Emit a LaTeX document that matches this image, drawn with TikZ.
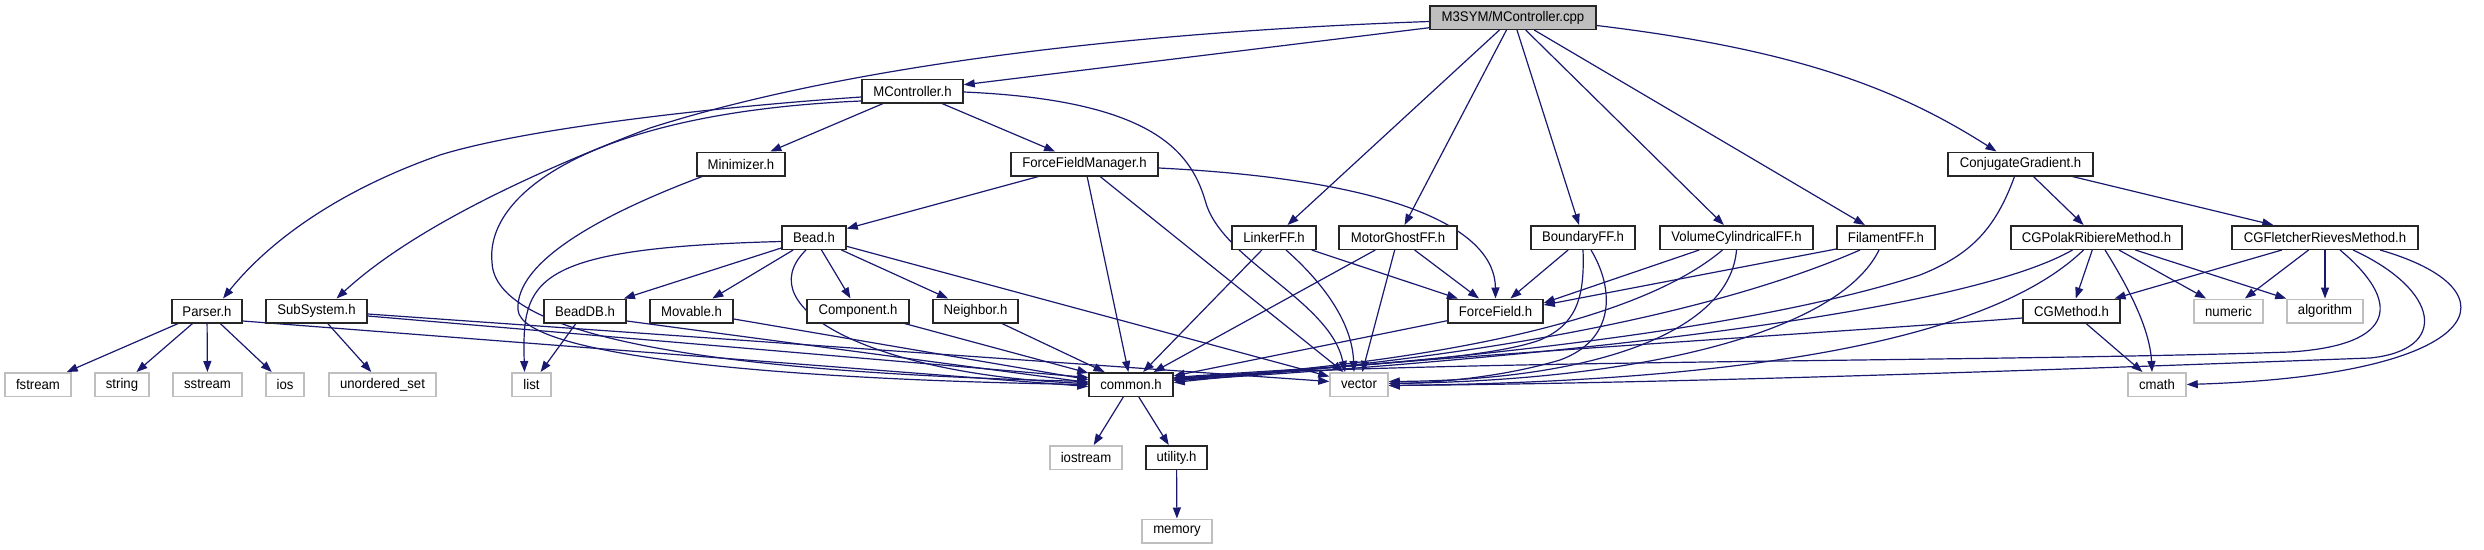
\documentclass[tikz,border=0pt]{standalone}
\usepackage{fontspec}
\setmainfont{Liberation Sans}[FakeStretch=0.94]
\usetikzlibrary{arrows.meta,calc,backgrounds}
\definecolor{edgec}{HTML}{191970}
\definecolor{grayb}{HTML}{BFBFBF}
\begin{document}
\begin{tikzpicture}[x=1pt,y=-1pt,
  hb/.style={draw=black!85, line width=1.5pt, fill=white, minimum height=23.5pt, inner sep=0pt, font=\fontsize{14}{16}\selectfont},
  gb/.style={hb, draw=grayb},
  rb/.style={hb, fill=grayb},
  ed/.style={draw=edgec, line width=1.2pt, -{Triangle[length=11pt,width=8pt]}},
]
\useasboundingbox (0,0) rectangle (2484,549);
% row 1
\node[rb, minimum width=166pt] (cpp) at (1513,17.5) {M3SYM/MController.cpp};
% row 2
\node[hb, minimum width=101pt] (mc) at (912.5,91) {MController.h};
% row 3
\node[hb, minimum width=88pt] (mini) at (741,164) {Minimizer.h};
\node[hb, minimum width=147pt] (ffm) at (1084.5,164) {ForceFieldManager.h};
\node[hb, minimum width=145pt] (cg) at (2020.5,164) {ConjugateGradient.h};
% row 4
\node[hb, minimum width=64pt] (bead) at (814,237.5) {Bead.h};
\node[hb, minimum width=84pt] (linker) at (1274,237.5) {LinkerFF.h};
\node[hb, minimum width=118pt] (motor) at (1398,237.5) {MotorGhostFF.h};
\node[hb, minimum width=104pt] (bound) at (1583,237.5) {BoundaryFF.h};
\node[hb, minimum width=153pt] (vcyl) at (1736.5,237.5) {VolumeCylindricalFF.h};
\node[hb, minimum width=98pt] (fil) at (1886,237.5) {FilamentFF.h};
\node[hb, minimum width=171pt] (polak) at (2096.5,237.5) {CGPolakRibiereMethod.h};
\node[hb, minimum width=186pt] (fletch) at (2325,237.5) {CGFletcherRievesMethod.h};
% row 5
\node[hb, minimum width=70pt] (parser) at (207,311) {Parser.h};
\node[hb, minimum width=101pt] (subsys) at (316.5,311) {SubSystem.h};
\node[hb, minimum width=82pt] (beaddb) at (585,311) {BeadDB.h};
\node[hb, minimum width=83pt] (movable) at (691.5,311) {Movable.h};
\node[hb, minimum width=102pt] (comp) at (858,311) {Component.h};
\node[hb, minimum width=85pt] (neigh) at (975.5,311) {Neighbor.h};
\node[hb, minimum width=95pt] (ffield) at (1495.5,311) {ForceField.h};
\node[hb, minimum width=97pt] (cgm) at (2071.5,311) {CGMethod.h};
\node[gb, minimum width=69pt] (numeric) at (2228.5,311) {numeric};
\node[gb, minimum width=76pt] (algo) at (2325,311) {algorithm};
% row 6
\node[gb, minimum width=66pt] (fstream) at (38,384.5) {fstream};
\node[gb, minimum width=54pt] (string) at (122,384.5) {string};
\node[gb, minimum width=69pt] (sstream) at (207.5,384.5) {sstream};
\node[gb, minimum width=38pt] (ios) at (285,384.5) {ios};
\node[gb, minimum width=107pt] (uset) at (382.5,384.5) {unordered\_set};
\node[gb, minimum width=39pt] (list) at (531.5,384.5) {list};
\node[hb, minimum width=84pt] (common) at (1131,384.5) {common.h};
\node[gb, minimum width=58pt] (vector) at (1359,384.5) {vector};
\node[gb, minimum width=58pt] (cmath) at (2157,384.5) {cmath};
% row 7
\node[gb, minimum width=72pt] (iostream) at (1086,457.5) {iostream};
\node[hb, minimum width=61pt] (utility) at (1176.5,457.5) {utility.h};
% row 8
\node[gb, minimum width=70pt] (memory) at (1177,531) {memory};

\begin{pgfonlayer}{background}
\fill[white] (0,0) rectangle (2484,549);
% cpp
\draw[ed] (cpp) -- (mc);
\draw[ed] ($(cpp.west)+(0,4)$) .. controls (1050,35) and (800,80) .. (650,128) .. controls (500,185) and (400,240) .. ($(subsys.north)+(20,0)$);
\draw[ed] (cpp) -- (linker);
\draw[ed] (cpp) -- (motor);
\draw[ed] (cpp) -- (bound);
\draw[ed] (cpp) -- (vcyl);
\draw[ed] (cpp) -- (fil);
\draw[ed] ($(cpp.east)+(0,8)$) .. controls (1800,50) and (1900,90) .. ($(cg.north)+(-24,0)$);
% MController
\draw[ed] ($(mc.west)+(0,6)$) .. controls (700,108) and (520,130) .. (440,155) .. controls (340,190) and (270,240) .. ($(parser.north)+(16,0)$);
\draw[ed] (mc) -- (mini);
\draw[ed] (mc) -- (ffm);
\draw[ed] ($(mc.west)+(0,10)$) .. controls (600,112) and (485,190) .. (492,262) .. controls (494,335) and (700,372) .. ($(common.west)+(0,-3)$);
\draw[ed] ($(mc.east)+(0,1)$) .. controls (1150,100) and (1190,150) .. (1205,200) .. controls (1220,260) and (1330,300) .. ($(vector.north)+(-14,0)$);
% Minimizer
\draw[ed] ($(mini.south west)+(6,0)$) .. controls (600,215) and (515,262) .. (518,310) .. controls (522,358) and (800,380) .. (common.west);
% ForceFieldManager
\draw[ed] (ffm) -- (bead);
\draw[ed] (ffm) -- (common);
\draw[ed] (ffm) -- (vector);
\draw[ed] ($(ffm.east)+(0,4)$) .. controls (1400,180) and (1495,230) .. (ffield.north);
% Bead
\draw[ed] ($(bead.west)+(0,4)$) .. controls (530,248) and (522,280) .. ($(list.north)+(-7,0)$);
\draw[ed] (bead) -- (beaddb);
\draw[ed] (bead) -- (movable);
\draw[ed] (bead) -- (comp);
\draw[ed] (bead) -- (neigh);
\draw[ed] ($(bead.south)+(-8,0)$) .. controls (745,310) and (880,375) .. ($(common.west)+(0,-1)$);
\draw[ed] (bead) -- (vector);
% Parser
\draw[ed] (parser) -- (fstream);
\draw[ed] (parser) -- (string);
\draw[ed] (parser) -- (sstream);
\draw[ed] (parser) -- (ios);
\draw[ed] ($(parser.east)+(0,10)$) -- ($(common.west)+(0,2)$);
% SubSystem
\draw[ed] (subsys) -- (uset);
\draw[ed] ($(subsys.east)+(0,5)$) -- ($(common.west)+(0,-7)$);
\draw[ed] ($(subsys.east)+(0,3)$) -- ($(vector.west)+(0,-3)$);
% BeadDB, Movable, Component, Neighbor
\draw[ed] (beaddb) -- (list);
\draw[ed] ($(beaddb.east)+(0,10)$) -- ($(common.west)+(0,-2)$);
\draw[ed] ($(movable.east)+(0,8)$) -- ($(common.west)+(0,-5)$);
\draw[ed] (comp) -- (common);
\draw[ed] (neigh) -- (common);
% LinkerFF
\draw[ed] (linker) -- (common);
\draw[ed] ($(linker.south)+(12,0)$) .. controls (1320,280) and (1352,320) .. ($(vector.north)+(-5,0)$);
\draw[ed] (linker) -- (ffield);
% MotorGhostFF
\draw[ed] (motor) -- (common);
\draw[ed] (motor) -- (vector);
\draw[ed] (motor) -- (ffield);
% BoundaryFF
\draw[ed] (bound) -- (ffield);
\draw[ed] (bound.south) .. controls (1585,300) and (1575,325) .. (1540,340) .. controls (1480,362) and (1300,368) .. ($(common.east)+(0,-7)$);
\draw[ed] ($(bound.south)+(8,0)$) .. controls (1615,290) and (1615,340) .. (1560,360) .. controls (1500,378) and (1430,383) .. ($(vector.east)+(0,-1)$);
% VolumeCylindricalFF
\draw[ed] ($(vcyl.south west)+(40,0)$) -- ($(ffield.east)+(0,-8)$);
\draw[ed] ($(vcyl.south)+(-14,0)$) .. controls (1640,320) and (1440,362) .. ($(common.east)+(0,-5)$);
\draw[ed] (vcyl.south) .. controls (1730,330) and (1600,380) .. ($(vector.east)+(0,-3)$);
% FilamentFF
\draw[ed] ($(fil.south west)+(0,-1)$) -- ($(ffield.east)+(0,-6)$);
\draw[ed] ($(fil.south)+(-26,0)$) .. controls (1700,320) and (1440,363) .. ($(common.east)+(0,-4)$);
\draw[ed] ($(fil.south)+(-7,0)$) .. controls (1840,330) and (1650,380) .. ($(vector.east)+(0,-1)$);
% ConjugateGradient
\draw[ed] ($(cg.south)+(-6,0)$) .. controls (1995,230) and (1970,255) .. (1920,275) .. controls (1750,330) and (1450,362) .. ($(common.east)+(0,-6)$);
\draw[ed] (cg) -- (polak);
\draw[ed] (cg) -- (fletch);
% CGPolakRibiere
\draw[ed] (polak) -- (cgm);
\draw[ed] ($(polak.south)+(8.5,0)$) .. controls (2130,290) and (2150,330) .. ($(cmath.north)+(-5,0)$);
\draw[ed] (polak) -- (numeric);
\draw[ed] (polak) -- (algo);
\draw[ed] ($(polak.south)+(-24,0)$) .. controls (1950,320) and (1480,362) .. ($(common.east)+(0,-4)$);
\draw[ed] ($(polak.south)+(-13,0)$) .. controls (1980,350) and (1700,382) .. ($(vector.east)+(0,1)$);
% CGFletcherRieves
\draw[ed] (fletch) -- (cgm);
\draw[ed] (fletch) -- (numeric);
\draw[ed] (fletch) -- (algo);
\draw[ed] ($(fletch.south)+(15,0)$) .. controls (2400,300) and (2400,345) .. (2290,352) .. controls (2000,362) and (1400,360) .. ($(common.east)+(0,-6)$);
\draw[ed] ($(fletch.south)+(28,0)$) .. controls (2440,290) and (2450,350) .. (2370,358) .. controls (2100,368) and (1700,383) .. ($(vector.east)+(0,1)$);
\draw[ed] ($(fletch.south)+(55,0)$) .. controls (2520,290) and (2490,375) .. (cmath.east);
% CGMethod
\draw[ed] ($(cgm.west)+(0,7)$) .. controls (1800,335) and (1400,358) .. ($(common.east)+(0,-2)$);
\draw[ed] (cgm) -- (cmath);
% ForceField
\draw[ed] (ffield) -- (common);
% common, utility
\draw[ed] (common) -- (iostream);
\draw[ed] (common) -- (utility);
\draw[ed] (utility) -- (memory);
\end{pgfonlayer}
\end{tikzpicture}
\end{document}
